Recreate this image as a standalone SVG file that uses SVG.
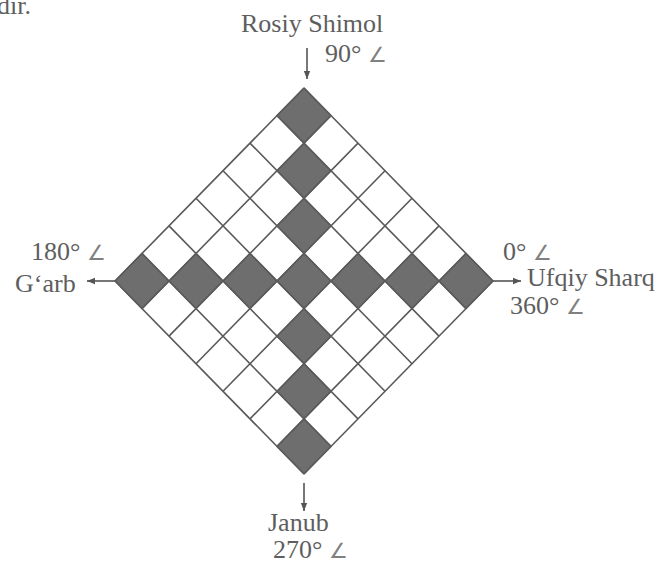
<svg xmlns="http://www.w3.org/2000/svg" width="662" height="563" viewBox="0 0 662 563">
<defs>
<style>
.t{font-family:"Liberation Serif","Times New Roman",serif;font-size:26px;fill:#5e5e5e}
.n{font-size:21px;fill:#808080}
.g{fill:none;stroke:#5a5a5a;stroke-width:1.6}
.s{fill:#6e6e6e;stroke:#5a5a5a;stroke-width:1.2}
.a{stroke:#555;stroke-width:1.6;fill:none}
</style>
<marker id="ah" viewBox="0 0 10 10" refX="10" refY="5" markerWidth="11" markerHeight="8" markerUnits="userSpaceOnUse" orient="auto">
<path d="M0,1 L10,5 L0,9 Z" fill="#555"/>
</marker>
<path id="c" d="M0,0 L27,27.571 L0,55.143 L-27,27.571 Z"/>
</defs>
<rect width="662" height="563" fill="#fff"/>
<text class="t" x="-3" y="14">dir.</text>
<g id="grid">
<g id="shaded">
<use href="#c" class="s" x="304" y="88"/>
<use href="#c" class="s" x="304" y="143.143"/>
<use href="#c" class="s" x="304" y="198.286"/>
<use href="#c" class="s" x="304" y="253.429"/>
<use href="#c" class="s" x="304" y="308.571"/>
<use href="#c" class="s" x="304" y="363.714"/>
<use href="#c" class="s" x="304" y="418.857"/>
<use href="#c" class="s" x="142" y="253.429"/>
<use href="#c" class="s" x="196" y="253.429"/>
<use href="#c" class="s" x="250" y="253.429"/>
<use href="#c" class="s" x="358" y="253.429"/>
<use href="#c" class="s" x="412" y="253.429"/>
<use href="#c" class="s" x="466" y="253.429"/>
</g>
<path class="g" d="M304,88L493,281 M277,115.571L466,308.571 M250,143.143L439,336.143 M223,170.714L412,363.714 M196,198.286L385,391.286 M169,225.857L358,418.857 M142,253.429L331,446.429 M115,281L304,474 M304,88L115,281 M331,115.571L142,308.571 M358,143.143L169,336.143 M385,170.714L196,363.714 M412,198.286L223,391.286 M439,225.857L250,418.857 M466,253.429L277,446.429 M493,281L304,474"/>
</g>
<g id="connectors">
<line class="a" x1="307" y1="48" x2="307" y2="79" marker-end="url(#ah)"/>
<line class="a" x1="115" y1="281" x2="87" y2="281" marker-end="url(#ah)"/>
<line class="a" x1="493" y1="281" x2="521" y2="281" marker-end="url(#ah)"/>
<line class="a" x1="304" y1="483" x2="304" y2="511" marker-end="url(#ah)"/>
</g>
<g id="north"><text class="t" x="241" y="32">Rosiy Shimol</text><text class="t" x="325" y="62">90° <tspan class="n">∠</tspan></text></g>
<g id="west"><text class="t" x="31" y="260">180° <tspan class="n">∠</tspan></text><text class="t" x="15" y="292">G‘arb</text></g>
<g id="east"><text class="t" x="503" y="260">0° <tspan class="n">∠</tspan></text><text class="t" x="527" y="286">Ufqiy Sharq</text><text class="t" x="510" y="314">360° <tspan class="n">∠</tspan></text></g>
<g id="south"><text class="t" x="268" y="531">Janub</text><text class="t" x="273" y="558">270° <tspan class="n">∠</tspan></text></g>
</svg>
